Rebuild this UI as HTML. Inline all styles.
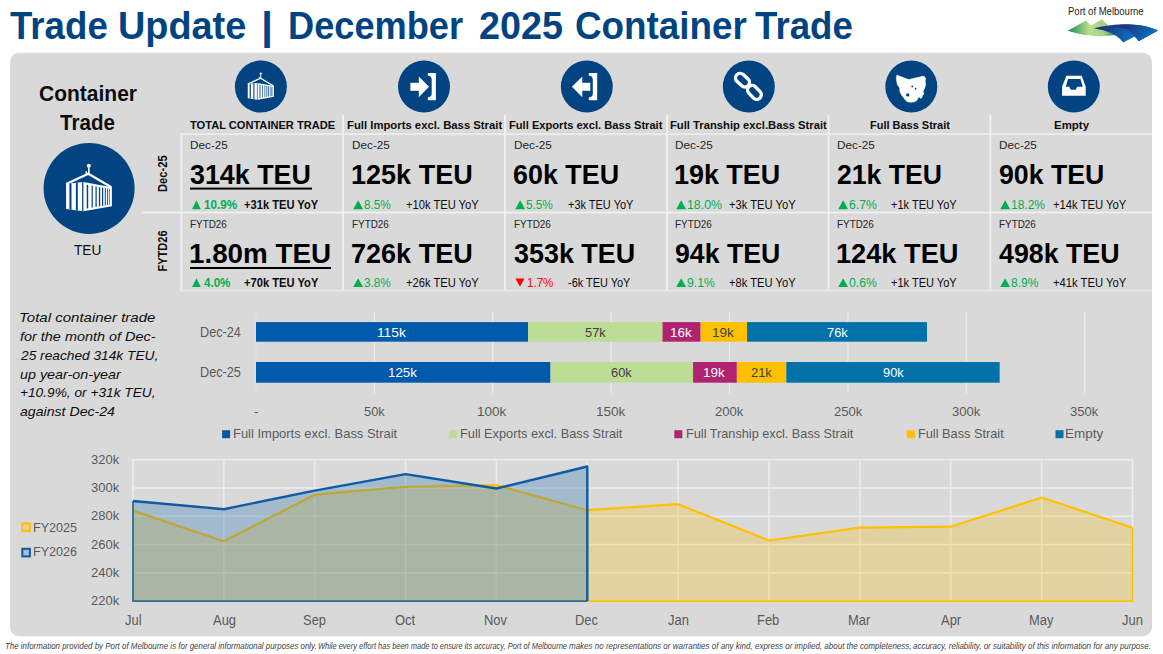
<!DOCTYPE html>
<html><head><meta charset="utf-8"><style>
html,body{margin:0;padding:0;background:#fff;}
body{width:1163px;height:654px;position:relative;overflow:hidden;font-family:"Liberation Sans",sans-serif;}
svg{position:absolute;left:0;top:0;}
.t{position:absolute;white-space:nowrap;transform-origin:0 0;}
</style></head><body>
<svg width="1163" height="654" viewBox="0 0 1163 654">
<rect x="10" y="52.8" width="1142" height="583.4" rx="9" ry="9" fill="#d9d9d9"/>
<rect x="180.5" y="133.3" width="1.8" height="157.5" fill="#f1f1f1"/>
<rect x="342.10" y="115" width="1.8" height="176" fill="#f1f1f1"/>
<rect x="504.10" y="115" width="1.8" height="176" fill="#f1f1f1"/>
<rect x="666.10" y="115" width="1.8" height="176" fill="#f1f1f1"/>
<rect x="827.60" y="115" width="1.8" height="176" fill="#f1f1f1"/>
<rect x="989.50" y="115" width="1.8" height="176" fill="#f1f1f1"/>
<rect x="180.5" y="133.3" width="971.5" height="1.8" fill="#ededed"/>
<rect x="142" y="211.7" width="1010" height="1.7" fill="#f1f1f1"/>
<rect x="180.5" y="289.7" width="971.5" height="1.7" fill="#e9e9e9"/>
<rect x="190" y="187.6" width="122" height="2" fill="#000"/>
<rect x="190" y="267" width="141" height="2" fill="#000"/>
<polygon points="192.00,209.20 196.40,200.30 200.80,209.20" fill="#00b050"/>
<polygon points="192.00,287.10 196.40,278.20 200.80,287.10" fill="#00b050"/>
<polygon points="353.20,209.20 358.15,200.30 363.10,209.20" fill="#00b050"/>
<polygon points="353.20,287.10 358.15,278.20 363.10,287.10" fill="#00b050"/>
<polygon points="515.20,209.20 520.15,200.30 525.10,209.20" fill="#00b050"/>
<polygon points="515.40,278.60 524.50,278.60 520.00,286.80" fill="#ff0000"/>
<polygon points="676.20,209.20 681.15,200.30 686.10,209.20" fill="#00b050"/>
<polygon points="676.20,287.10 681.15,278.20 686.10,287.10" fill="#00b050"/>
<polygon points="838.20,209.20 843.15,200.30 848.10,209.20" fill="#00b050"/>
<polygon points="838.20,287.10 843.15,278.20 848.10,287.10" fill="#00b050"/>
<polygon points="1000.20,209.20 1005.15,200.30 1010.10,209.20" fill="#00b050"/>
<polygon points="1000.20,287.10 1005.15,278.20 1010.10,287.10" fill="#00b050"/>
<circle cx="260.9" cy="86.6" r="26" fill="#024481"/>
<g transform="translate(260.9,86.6)"><g transform="scale(0.5714)"><polyline points="-23.00,-4.40 -0.70,-14.60 22.30,-1.10" fill="none" stroke="#fff" stroke-width="2.2"/><circle cx="-0.3" cy="-22.6" r="2" fill="#fff"/><path d="M-0.3,-21 L-0.3,-15.5 Q-0.5,-13.8 -2.5,-14.5 L-3,-17" fill="none" stroke="#fff" stroke-width="1.6"/><polygon points="-23.00,-4.70 -5.60,-6.40 -5.60,22.80 -23.00,20.60" fill="#fff"/><polygon points="-19.70,-5.02 -17.60,-5.23 -17.60,21.28 -19.70,21.02" fill="#024481"/><polygon points="-13.20,-5.66 -11.30,-5.84 -11.30,22.08 -13.20,21.84" fill="#024481"/><polygon points="-7.00,-6.26 -5.60,-6.40 -5.60,22.80 -7.00,22.62" fill="#024481"/><polygon points="-5.60,-6.40 22.80,-1.10 22.80,17.90 -5.60,22.80" fill="#fff"/><polygon points="-2.40,-3.63 -0.90,-3.36 -0.90,19.82 -2.40,20.07" fill="#024481"/><polygon points="2.50,-2.75 3.70,-2.53 3.70,19.06 2.50,19.26" fill="#024481"/><polygon points="6.40,-2.05 7.60,-1.83 7.60,18.42 6.40,18.61" fill="#024481"/><polygon points="9.80,-1.43 11.10,-1.20 11.10,17.84 9.80,18.05" fill="#024481"/><polygon points="12.90,-0.88 14.10,-0.66 14.10,17.34 12.90,17.54" fill="#024481"/><polygon points="15.70,-0.38 16.70,-0.20 16.70,16.91 15.70,17.07" fill="#024481"/><polygon points="18.10,0.06 19.00,0.22 19.00,16.53 18.10,16.68" fill="#024481"/><polygon points="20.20,0.43 20.80,0.54 20.80,16.23 20.20,16.33" fill="#024481"/></g></g>
<circle cx="424" cy="86.6" r="26" fill="#024481"/>
<g transform="translate(424,86.6)"><rect x="-13.6" y="-3.8" width="8.6" height="8" fill="#fff"/><polygon points="-5.2,-10.2 5,0.2 -5.2,10.6" fill="#fff"/><path d="M3.8,-13.7 L11.9,-13.7 L11.9,13.6 L3.8,13.6 L3.8,10.8 Q7.7,10.8 7.7,7 L7.7,-7 Q7.7,-10.8 3.8,-10.8 Z" fill="#fff"/></g>
<circle cx="586.8" cy="86.6" r="26" fill="#024481"/>
<g transform="translate(586.8,86.6)"><rect x="-4.7" y="-3.8" width="8.2" height="8" fill="#fff"/><polygon points="-4.5,-10.2 -14.9,0.2 -4.5,10.6" fill="#fff"/><path d="M2,-13.7 L10.4,-13.7 L10.4,13.6 L2,13.6 L2,10.8 Q6,10.8 6,7 L6,-7 Q6,-10.8 2,-10.8 Z" fill="#fff"/></g>
<circle cx="748.8" cy="86.6" r="26" fill="#024481"/>
<g transform="translate(748.8,86.6)"><g transform="translate(-6.3,-6.4) rotate(43)"><rect x="-7.9" y="-4.6" width="15.8" height="9.2" rx="4.6" fill="none" stroke="#fff" stroke-width="3.4"/></g><g transform="translate(5.6,5.8) rotate(47)"><rect x="-7.9" y="-4.6" width="15.8" height="9.2" rx="4.6" fill="none" stroke="#fff" stroke-width="3.4"/></g></g>
<circle cx="911.3" cy="86.6" r="26" fill="#024481"/>
<g transform="translate(911.3,86.6)"><polygon points="-14.34,-11.51 -10.95,-10.10 -6.99,-8.68 -3.59,-7.27 -1.90,-6.98 0.93,-7.83 4.32,-8.68 7.72,-9.25 11.11,-10.38 13.37,-9.81 14.22,-8.12 13.94,-5.29 14.22,-1.89 13.37,1.50 12.24,3.76 11.68,5.46 12.81,7.16 11.11,8.85 10.55,11.11 8.85,11.68 7.72,9.98 6.59,11.68 5.46,13.94 3.19,15.07 -0.20,15.64 -4.16,15.07 -5.86,13.38 -7.55,11.11 -9.82,8.29 -11.51,4.33 -11.51,1.50 -13.78,-1.89 -14.62,-5.29 -14.91,-9.25" fill="#fff" stroke="#fff" stroke-width="0.6" stroke-linejoin="round"/><circle cx="0.93" cy="-0.20" r="0.9" fill="#024481"/><circle cx="4.32" cy="2.07" r="0.9" fill="#024481"/><circle cx="-3.59" cy="8.29" r="1.7" fill="#024481"/></g>
<circle cx="1073.8" cy="86.6" r="26" fill="#024481"/>
<g transform="translate(1073.8,86.6)"><polygon points="-7.48,-10.73 7.93,-10.73 11.90,0.21 11.90,9.16 -11.76,9.16 -11.76,0.21" fill="#fff"/><polygon points="-5.79,-7.54 6.73,-7.54 8.92,0.21 3.45,0.21 1.96,3.19 -3.01,3.19 -4.50,0.21 -7.98,0.21" fill="#024481"/></g>
<circle cx="89.1" cy="188.4" r="45.5" fill="#024481"/>
<g transform="translate(89.1,188.4)"><g transform="scale(1.0000)"><polyline points="-23.00,-4.40 -0.70,-14.60 22.30,-1.10" fill="none" stroke="#fff" stroke-width="2.2"/><circle cx="-0.3" cy="-22.6" r="2" fill="#fff"/><path d="M-0.3,-21 L-0.3,-15.5 Q-0.5,-13.8 -2.5,-14.5 L-3,-17" fill="none" stroke="#fff" stroke-width="1.6"/><polygon points="-23.00,-4.70 -5.60,-6.40 -5.60,22.80 -23.00,20.60" fill="#fff"/><polygon points="-19.70,-5.02 -17.60,-5.23 -17.60,21.28 -19.70,21.02" fill="#024481"/><polygon points="-13.20,-5.66 -11.30,-5.84 -11.30,22.08 -13.20,21.84" fill="#024481"/><polygon points="-7.00,-6.26 -5.60,-6.40 -5.60,22.80 -7.00,22.62" fill="#024481"/><polygon points="-5.60,-6.40 22.80,-1.10 22.80,17.90 -5.60,22.80" fill="#fff"/><polygon points="-2.40,-3.63 -0.90,-3.36 -0.90,19.82 -2.40,20.07" fill="#024481"/><polygon points="2.50,-2.75 3.70,-2.53 3.70,19.06 2.50,19.26" fill="#024481"/><polygon points="6.40,-2.05 7.60,-1.83 7.60,18.42 6.40,18.61" fill="#024481"/><polygon points="9.80,-1.43 11.10,-1.20 11.10,17.84 9.80,18.05" fill="#024481"/><polygon points="12.90,-0.88 14.10,-0.66 14.10,17.34 12.90,17.54" fill="#024481"/><polygon points="15.70,-0.38 16.70,-0.20 16.70,16.91 15.70,17.07" fill="#024481"/><polygon points="18.10,0.06 19.00,0.22 19.00,16.53 18.10,16.68" fill="#024481"/><polygon points="20.20,0.43 20.80,0.54 20.80,16.23 20.20,16.33" fill="#024481"/></g></g>
<rect x="255.40" y="311.5" width="1.2" height="82" fill="#e0e0e0"/>
<rect x="373.78" y="311.5" width="1.2" height="82" fill="#ececec"/>
<rect x="492.16" y="311.5" width="1.2" height="82" fill="#ececec"/>
<rect x="610.54" y="311.5" width="1.2" height="82" fill="#ececec"/>
<rect x="728.92" y="311.5" width="1.2" height="82" fill="#ececec"/>
<rect x="847.30" y="311.5" width="1.2" height="82" fill="#ececec"/>
<rect x="965.68" y="311.5" width="1.2" height="82" fill="#ececec"/>
<rect x="1084.06" y="311.5" width="1.2" height="82" fill="#ececec"/>
<rect x="256.00" y="322.1" width="272.04" height="19.60" fill="#005aab"/>
<rect x="528.04" y="322.1" width="134.48" height="19.60" fill="#bddc96"/>
<rect x="662.52" y="322.1" width="38.12" height="19.60" fill="#b0236f"/>
<rect x="700.64" y="322.1" width="46.40" height="19.60" fill="#ffc000"/>
<rect x="747.04" y="322.1" width="179.94" height="19.60" fill="#0071a9"/>
<rect x="256.00" y="362.0" width="294.53" height="20.70" fill="#005aab"/>
<rect x="550.53" y="362.0" width="142.53" height="20.70" fill="#bddc96"/>
<rect x="693.06" y="362.0" width="43.80" height="20.70" fill="#b0236f"/>
<rect x="736.86" y="362.0" width="49.48" height="20.70" fill="#ffc000"/>
<rect x="786.34" y="362.0" width="213.32" height="20.70" fill="#0071a9"/>
<rect x="222.1" y="430.2" width="8" height="8" fill="#005aab"/>
<rect x="449.4" y="430.2" width="8" height="8" fill="#bddc96"/>
<rect x="674.3" y="430.2" width="8" height="8" fill="#b0236f"/>
<rect x="906.8" y="430.2" width="8" height="8" fill="#ffc000"/>
<rect x="1055.5" y="430.2" width="8" height="8" fill="#0071a9"/>
<rect x="132.20" y="600.30" width="1001.06" height="1.6" fill="#ebebeb"/>
<rect x="132.20" y="572.02" width="1001.06" height="1.6" fill="#ebebeb"/>
<rect x="132.20" y="543.74" width="1001.06" height="1.6" fill="#ebebeb"/>
<rect x="132.20" y="515.46" width="1001.06" height="1.6" fill="#ebebeb"/>
<rect x="132.20" y="487.18" width="1001.06" height="1.6" fill="#ebebeb"/>
<rect x="132.20" y="458.90" width="1001.06" height="1.6" fill="#ebebeb"/>
<rect x="132.20" y="458.90" width="1.6" height="143.00" fill="#ebebeb"/>
<rect x="223.06" y="458.90" width="1.6" height="143.00" fill="#ebebeb"/>
<rect x="313.92" y="458.90" width="1.6" height="143.00" fill="#ebebeb"/>
<rect x="404.78" y="458.90" width="1.6" height="143.00" fill="#ebebeb"/>
<rect x="495.64" y="458.90" width="1.6" height="143.00" fill="#ebebeb"/>
<rect x="586.50" y="458.90" width="1.6" height="143.00" fill="#ebebeb"/>
<rect x="677.36" y="458.90" width="1.6" height="143.00" fill="#ebebeb"/>
<rect x="768.22" y="458.90" width="1.6" height="143.00" fill="#ebebeb"/>
<rect x="859.08" y="458.90" width="1.6" height="143.00" fill="#ebebeb"/>
<rect x="949.94" y="458.90" width="1.6" height="143.00" fill="#ebebeb"/>
<rect x="1040.80" y="458.90" width="1.6" height="143.00" fill="#ebebeb"/>
<rect x="1131.66" y="458.90" width="1.6" height="143.00" fill="#ebebeb"/>
<polygon points="133.00,510.60 223.86,541.20 314.72,494.70 405.58,486.80 496.44,485.10 587.30,510.20 678.16,504.20 769.02,540.50 859.88,527.70 950.74,526.70 1041.60,497.50 1132.46,527.70 1132.46,601.10 133.00,601.10" fill="#ffc000" fill-opacity="0.25" stroke="none"/>
<polyline points="133.00,601.10 1132.46,601.10 1132.46,527.70" fill="none" stroke="#ffc000" stroke-width="1.6"/>
<polyline points="133.00,510.60 223.86,541.20 314.72,494.70 405.58,486.80 496.44,485.10 587.30,510.20 678.16,504.20 769.02,540.50 859.88,527.70 950.74,526.70 1041.60,497.50 1132.46,527.70" fill="none" stroke="#ffc000" stroke-width="2.2" stroke-linejoin="round"/>
<polygon points="133.00,501.00 223.86,509.20 314.72,490.60 405.58,474.10 496.44,488.50 587.30,466.50 587.30,601.10 133.00,601.10" fill="#1f6fae" fill-opacity="0.29" stroke="none"/>
<polyline points="587.30,601.10 133.00,601.10 133.00,501.00" fill="none" stroke="#2a6e96" stroke-width="1.8"/>
<polyline points="133.00,501.00 223.86,509.20 314.72,490.60 405.58,474.10 496.44,488.50 587.30,466.50 587.30,601.10" fill="none" stroke="#0f5aa6" stroke-width="2.4" stroke-linejoin="round"/>
<rect x="22.3" y="523.5" width="7.6" height="7.6" fill="#e3d3a3" stroke="#ffc000" stroke-width="2"/>
<rect x="22.3" y="548.8" width="7.6" height="7.6" fill="#a9bcd0" stroke="#0f5aa6" stroke-width="2"/>
<defs><linearGradient id="gm" gradientUnits="userSpaceOnUse" x1="1067" y1="0" x2="1116" y2="0"><stop offset="0" stop-color="#138a4c"/><stop offset="0.45" stop-color="#b8dc90"/><stop offset="0.75" stop-color="#a6d286"/><stop offset="1" stop-color="#128a50"/></linearGradient><linearGradient id="gb" gradientUnits="userSpaceOnUse" x1="1100" y1="25" x2="1125" y2="43"><stop offset="0" stop-color="#222c74"/><stop offset="1" stop-color="#0a6cbc"/></linearGradient><linearGradient id="gb2" gradientUnits="userSpaceOnUse" x1="1125" y1="24" x2="1145" y2="41"><stop offset="0" stop-color="#21317a"/><stop offset="1" stop-color="#0a6cbc"/></linearGradient></defs><path d="M1067.8,30.8 L1086.1,20.6 L1091,25.4 L1102.1,19.2 L1108.5,26.1 L1115.2,35.1 C1100,37.5 1082,36 1067.8,30.8 Z" fill="url(#gm)"/><path d="M1093.7,28.4 C1105,25.5 1120,24 1130,24.4 C1142,24.8 1152,27.5 1158.1,30.4 L1138.7,41.2 C1137.5,39.3 1136,37.5 1134.6,36.5 L1123.2,42.5 C1120,38.5 1117,36 1112,33.5 C1106,30.8 1100,29.2 1093.7,28.4 Z" fill="url(#gb)"/><path d="M1111,26.2 C1125,27 1131,31 1134.6,36.5 L1138.7,41.2 L1158.1,30.4 C1150,26.5 1140,24.5 1130,24.4 C1122,24.4 1115,25.2 1111,26.2 Z" fill="url(#gb2)"/>
</svg>
<span class="t" style="left:10.00px;top:7.00px;font-size:38.84px;line-height:38.84px;color:#024481;font-weight:bold;transform:scaleX(0.9437);">Trade</span>
<span class="t" style="left:118.15px;top:7.00px;font-size:38.84px;line-height:38.84px;color:#024481;font-weight:bold;transform:scaleX(0.9744);">Update</span>
<span class="t" style="left:260.97px;top:7.00px;font-size:38.84px;line-height:38.84px;color:#024481;font-weight:bold;transform:scaleX(1.1167);">|</span>
<span class="t" style="left:288.34px;top:7.00px;font-size:38.84px;line-height:38.84px;color:#024481;font-weight:bold;transform:scaleX(0.9323);">December</span>
<span class="t" style="left:478.93px;top:7.00px;font-size:38.84px;line-height:38.84px;color:#024481;font-weight:bold;transform:scaleX(0.9719);">2025</span>
<span class="t" style="left:575.05px;top:7.00px;font-size:38.84px;line-height:38.84px;color:#024481;font-weight:bold;transform:scaleX(0.9484);">Container</span>
<span class="t" style="left:755.30px;top:7.00px;font-size:38.84px;line-height:38.84px;color:#024481;font-weight:bold;transform:scaleX(0.9447);">Trade</span>
<span class="t" style="left:1067.50px;top:7.00px;font-size:10.29px;line-height:10.29px;color:#222;transform:scaleX(0.9256);">Port of Melbourne</span>
<span class="t" style="left:39.10px;top:83.00px;font-size:21.16px;line-height:21.16px;color:#0d0d0d;font-weight:bold;transform:scaleX(0.9925);">Container</span>
<span class="t" style="left:60.20px;top:113.00px;font-size:21.30px;line-height:21.30px;color:#0d0d0d;font-weight:bold;transform:scaleX(0.9671);">Trade</span>
<span class="t" style="left:74.20px;top:243.00px;font-size:14.64px;line-height:14.64px;color:#0d0d0d;transform:scaleX(0.9342);">TEU</span>
<span class="t" style="left:189.60px;top:119.00px;font-size:11.74px;line-height:11.74px;color:#0d0d0d;font-weight:bold;transform:scaleX(0.9446);">TOTAL CONTAINER TRADE</span>
<span class="t" style="left:346.50px;top:119.00px;font-size:11.74px;line-height:11.74px;color:#0d0d0d;font-weight:bold;transform:scaleX(0.9636);">Full Imports excl. Bass Strait</span>
<span class="t" style="left:509.30px;top:119.00px;font-size:11.74px;line-height:11.74px;color:#0d0d0d;font-weight:bold;transform:scaleX(0.9486);">Full Exports excl. Bass Strait</span>
<span class="t" style="left:669.60px;top:119.00px;font-size:11.74px;line-height:11.74px;color:#0d0d0d;font-weight:bold;transform:scaleX(0.9580);">Full Tranship excl.Bass Strait</span>
<span class="t" style="left:869.60px;top:119.00px;font-size:11.74px;line-height:11.74px;color:#0d0d0d;font-weight:bold;transform:scaleX(0.9355);">Full Bass Strait</span>
<span class="t" style="left:1053.70px;top:119.00px;font-size:11.74px;line-height:11.74px;color:#0d0d0d;font-weight:bold;transform:scaleX(0.9780);">Empty</span>
<span class="t" style="left:190.00px;top:140.00px;font-size:11.59px;line-height:11.59px;color:#262626;transform:scaleX(1.0140);">Dec-25</span>
<span class="t" style="left:190.00px;top:161.00px;font-size:27.54px;line-height:27.54px;color:#000;font-weight:bold;transform:scaleX(0.9755);">314k TEU</span>
<span class="t" style="left:203.80px;top:199.00px;font-size:12.75px;line-height:12.75px;color:#00b050;font-weight:bold;transform:scaleX(0.9130);">10.9%</span>
<span class="t" style="left:244.00px;top:199.00px;font-size:12.75px;line-height:12.75px;color:#0d0d0d;font-weight:bold;transform:scaleX(0.8733);">+31k TEU YoY</span>
<span class="t" style="left:190.00px;top:219.00px;font-size:11.59px;line-height:11.59px;color:#262626;transform:scaleX(0.8554);">FYTD26</span>
<span class="t" style="left:188.99px;top:240.00px;font-size:27.54px;line-height:27.54px;color:#000;font-weight:bold;transform:scaleX(1.0085);">1.80m TEU</span>
<span class="t" style="left:203.80px;top:277.00px;font-size:12.75px;line-height:12.75px;color:#00b050;font-weight:bold;transform:scaleX(0.9086);">4.0%</span>
<span class="t" style="left:244.00px;top:277.00px;font-size:12.75px;line-height:12.75px;color:#0d0d0d;font-weight:bold;transform:scaleX(0.8757);">+70k TEU YoY</span>
<span class="t" style="left:352.00px;top:140.00px;font-size:11.59px;line-height:11.59px;color:#262626;transform:scaleX(1.0140);">Dec-25</span>
<span class="t" style="left:351.02px;top:161.00px;font-size:27.54px;line-height:27.54px;color:#000;font-weight:bold;transform:scaleX(0.9818);">125k TEU</span>
<span class="t" style="left:364.30px;top:199.00px;font-size:12.75px;line-height:12.75px;color:#00b050;transform:scaleX(0.9226);">8.5%</span>
<span class="t" style="left:406.00px;top:199.00px;font-size:12.75px;line-height:12.75px;color:#0d0d0d;transform:scaleX(0.8749);">+10k TEU YoY</span>
<span class="t" style="left:352.00px;top:219.00px;font-size:11.59px;line-height:11.59px;color:#262626;transform:scaleX(0.8554);">FYTD26</span>
<span class="t" style="left:351.02px;top:240.00px;font-size:27.54px;line-height:27.54px;color:#000;font-weight:bold;transform:scaleX(0.9818);">726k TEU</span>
<span class="t" style="left:364.30px;top:277.00px;font-size:12.75px;line-height:12.75px;color:#00b050;transform:scaleX(0.9226);">3.8%</span>
<span class="t" style="left:406.00px;top:277.00px;font-size:12.75px;line-height:12.75px;color:#0d0d0d;transform:scaleX(0.8749);">+26k TEU YoY</span>
<span class="t" style="left:514.00px;top:140.00px;font-size:11.59px;line-height:11.59px;color:#262626;transform:scaleX(1.0140);">Dec-25</span>
<span class="t" style="left:513.02px;top:161.00px;font-size:27.54px;line-height:27.54px;color:#000;font-weight:bold;transform:scaleX(0.9764);">60k TEU</span>
<span class="t" style="left:526.30px;top:199.00px;font-size:12.75px;line-height:12.75px;color:#00b050;transform:scaleX(0.9226);">5.5%</span>
<span class="t" style="left:568.00px;top:199.00px;font-size:12.75px;line-height:12.75px;color:#0d0d0d;transform:scaleX(0.8606);">+3k TEU YoY</span>
<span class="t" style="left:514.00px;top:219.00px;font-size:11.59px;line-height:11.59px;color:#262626;transform:scaleX(0.8554);">FYTD26</span>
<span class="t" style="left:514.00px;top:240.00px;font-size:27.54px;line-height:27.54px;color:#000;font-weight:bold;transform:scaleX(0.9771);">353k TEU</span>
<span class="t" style="left:526.80px;top:277.00px;font-size:12.75px;line-height:12.75px;color:#ff0000;transform:scaleX(0.9052);">1.7%</span>
<span class="t" style="left:568.00px;top:277.00px;font-size:12.75px;line-height:12.75px;color:#0d0d0d;transform:scaleX(0.8573);">-6k TEU YoY</span>
<span class="t" style="left:675.00px;top:140.00px;font-size:11.59px;line-height:11.59px;color:#262626;transform:scaleX(1.0140);">Dec-25</span>
<span class="t" style="left:674.02px;top:161.00px;font-size:27.54px;line-height:27.54px;color:#000;font-weight:bold;transform:scaleX(0.9774);">19k TEU</span>
<span class="t" style="left:687.30px;top:199.00px;font-size:12.75px;line-height:12.75px;color:#00b050;transform:scaleX(0.9689);">18.0%</span>
<span class="t" style="left:729.00px;top:199.00px;font-size:12.75px;line-height:12.75px;color:#0d0d0d;transform:scaleX(0.8775);">+3k TEU YoY</span>
<span class="t" style="left:675.00px;top:219.00px;font-size:11.59px;line-height:11.59px;color:#262626;transform:scaleX(0.8554);">FYTD26</span>
<span class="t" style="left:675.00px;top:240.00px;font-size:27.54px;line-height:27.54px;color:#000;font-weight:bold;transform:scaleX(0.9683);">94k TEU</span>
<span class="t" style="left:687.30px;top:277.00px;font-size:12.75px;line-height:12.75px;color:#00b050;transform:scaleX(0.9539);">9.1%</span>
<span class="t" style="left:729.00px;top:277.00px;font-size:12.75px;line-height:12.75px;color:#0d0d0d;transform:scaleX(0.8775);">+8k TEU YoY</span>
<span class="t" style="left:837.00px;top:140.00px;font-size:11.59px;line-height:11.59px;color:#262626;transform:scaleX(1.0140);">Dec-25</span>
<span class="t" style="left:837.00px;top:161.00px;font-size:27.54px;line-height:27.54px;color:#000;font-weight:bold;transform:scaleX(0.9655);">21k TEU</span>
<span class="t" style="left:849.30px;top:199.00px;font-size:12.75px;line-height:12.75px;color:#00b050;transform:scaleX(0.9574);">6.7%</span>
<span class="t" style="left:891.00px;top:199.00px;font-size:12.75px;line-height:12.75px;color:#0d0d0d;transform:scaleX(0.8645);">+1k TEU YoY</span>
<span class="t" style="left:837.00px;top:219.00px;font-size:11.59px;line-height:11.59px;color:#262626;transform:scaleX(0.8554);">FYTD26</span>
<span class="t" style="left:836.01px;top:240.00px;font-size:27.54px;line-height:27.54px;color:#000;font-weight:bold;transform:scaleX(0.9876);">124k TEU</span>
<span class="t" style="left:849.30px;top:277.00px;font-size:12.75px;line-height:12.75px;color:#00b050;transform:scaleX(0.9574);">0.6%</span>
<span class="t" style="left:891.00px;top:277.00px;font-size:12.75px;line-height:12.75px;color:#0d0d0d;transform:scaleX(0.8645);">+1k TEU YoY</span>
<span class="t" style="left:999.00px;top:140.00px;font-size:11.59px;line-height:11.59px;color:#262626;transform:scaleX(1.0140);">Dec-25</span>
<span class="t" style="left:999.00px;top:161.00px;font-size:27.54px;line-height:27.54px;color:#000;font-weight:bold;transform:scaleX(0.9683);">90k TEU</span>
<span class="t" style="left:1011.30px;top:199.00px;font-size:12.75px;line-height:12.75px;color:#00b050;transform:scaleX(0.9381);">18.2%</span>
<span class="t" style="left:1053.00px;top:199.00px;font-size:12.75px;line-height:12.75px;color:#0d0d0d;transform:scaleX(0.8808);">+14k TEU YoY</span>
<span class="t" style="left:999.00px;top:219.00px;font-size:11.59px;line-height:11.59px;color:#262626;transform:scaleX(0.8554);">FYTD26</span>
<span class="t" style="left:999.00px;top:240.00px;font-size:27.54px;line-height:27.54px;color:#000;font-weight:bold;transform:scaleX(0.9722);">498k TEU</span>
<span class="t" style="left:1011.30px;top:277.00px;font-size:12.75px;line-height:12.75px;color:#00b050;transform:scaleX(0.9435);">8.9%</span>
<span class="t" style="left:1053.00px;top:277.00px;font-size:12.75px;line-height:12.75px;color:#0d0d0d;transform:scaleX(0.8808);">+41k TEU YoY</span>
<span class="t" style="left:0px;top:0px;font-size:13.62px;line-height:13.62px;color:#0d0d0d;font-weight:bold;transform:translate(155.82px,192.00px) rotate(-90deg) scaleX(0.8232);">Dec-25</span>
<span class="t" style="left:0px;top:0px;font-size:13.62px;line-height:13.62px;color:#0d0d0d;font-weight:bold;transform:translate(155.82px,271.50px) rotate(-90deg) scaleX(0.8121);">FYTD26</span>
<span class="t" style="left:18.77px;top:311.00px;font-size:13.33px;line-height:13.33px;color:#0d0d0d;font-style:italic;transform:scaleX(1.1270);">Total container trade</span>
<span class="t" style="left:19.90px;top:330.00px;font-size:13.33px;line-height:13.33px;color:#0d0d0d;font-style:italic;transform:scaleX(1.0823);">for the month of Dec-</span>
<span class="t" style="left:20.93px;top:349.00px;font-size:13.33px;line-height:13.33px;color:#0d0d0d;font-style:italic;transform:scaleX(1.0295);">25 reached 314k TEU,</span>
<span class="t" style="left:19.90px;top:368.00px;font-size:13.33px;line-height:13.33px;color:#0d0d0d;font-style:italic;transform:scaleX(1.0741);">up year-on-year</span>
<span class="t" style="left:19.90px;top:386.00px;font-size:13.33px;line-height:13.33px;color:#0d0d0d;font-style:italic;transform:scaleX(1.0277);">+10.9%, or +31k TEU,</span>
<span class="t" style="left:19.90px;top:405.00px;font-size:13.33px;line-height:13.33px;color:#0d0d0d;font-style:italic;transform:scaleX(1.0590);">against Dec-24</span>
<span class="t" style="left:200.19px;top:326.00px;font-size:13.91px;line-height:13.91px;color:#595959;transform:scaleX(0.9117);">Dec-24</span>
<span class="t" style="left:200.19px;top:366.00px;font-size:13.91px;line-height:13.91px;color:#595959;transform:scaleX(0.9117);">Dec-25</span>
<span class="t" style="left:376.94px;top:326.00px;font-size:13.33px;line-height:13.33px;color:#fff;transform:scaleX(1.0313);">115k</span>
<span class="t" style="left:584.78px;top:326.00px;font-size:13.33px;line-height:13.33px;color:#404040;transform:scaleX(0.9622);">57k</span>
<span class="t" style="left:670.07px;top:326.00px;font-size:13.33px;line-height:13.33px;color:#fff;transform:scaleX(1.0084);">16k</span>
<span class="t" style="left:712.33px;top:326.00px;font-size:13.33px;line-height:13.33px;color:#404040;transform:scaleX(1.0084);">19k</span>
<span class="t" style="left:826.51px;top:326.00px;font-size:13.33px;line-height:13.33px;color:#fff;transform:scaleX(0.9622);">76k</span>
<span class="t" style="left:388.22px;top:366.00px;font-size:13.33px;line-height:13.33px;color:#fff;transform:scaleX(0.9951);">125k</span>
<span class="t" style="left:611.29px;top:366.00px;font-size:13.33px;line-height:13.33px;color:#404040;transform:scaleX(0.9622);">60k</span>
<span class="t" style="left:703.45px;top:366.00px;font-size:13.33px;line-height:13.33px;color:#fff;transform:scaleX(1.0084);">19k</span>
<span class="t" style="left:751.10px;top:366.00px;font-size:13.33px;line-height:13.33px;color:#404040;transform:scaleX(0.9622);">21k</span>
<span class="t" style="left:882.50px;top:366.00px;font-size:13.33px;line-height:13.33px;color:#fff;transform:scaleX(0.9622);">90k</span>
<span class="t" style="left:254.00px;top:405.00px;font-size:13.33px;line-height:13.33px;color:#595959;">-</span>
<span class="t" style="left:363.83px;top:405.00px;font-size:13.33px;line-height:13.33px;color:#595959;transform:scaleX(0.9668);">50k</span>
<span class="t" style="left:477.39px;top:405.00px;font-size:13.33px;line-height:13.33px;color:#595959;transform:scaleX(1.0164);">100k</span>
<span class="t" style="left:595.77px;top:405.00px;font-size:13.33px;line-height:13.33px;color:#595959;transform:scaleX(1.0164);">150k</span>
<span class="t" style="left:715.17px;top:405.00px;font-size:13.33px;line-height:13.33px;color:#595959;transform:scaleX(0.9816);">200k</span>
<span class="t" style="left:833.55px;top:405.00px;font-size:13.33px;line-height:13.33px;color:#595959;transform:scaleX(0.9816);">250k</span>
<span class="t" style="left:951.93px;top:405.00px;font-size:13.33px;line-height:13.33px;color:#595959;transform:scaleX(0.9816);">300k</span>
<span class="t" style="left:1070.31px;top:405.00px;font-size:13.33px;line-height:13.33px;color:#595959;transform:scaleX(0.9816);">350k</span>
<span class="t" style="left:233.03px;top:427.00px;font-size:13.33px;line-height:13.33px;color:#595959;transform:scaleX(0.9723);">Full Imports excl. Bass Strait</span>
<span class="t" style="left:460.04px;top:427.00px;font-size:13.33px;line-height:13.33px;color:#595959;transform:scaleX(0.9573);">Full Exports excl. Bass Strait</span>
<span class="t" style="left:685.85px;top:427.00px;font-size:13.33px;line-height:13.33px;color:#595959;transform:scaleX(0.9527);">Full Tranship excl. Bass Strait</span>
<span class="t" style="left:917.94px;top:427.00px;font-size:13.33px;line-height:13.33px;color:#595959;transform:scaleX(0.9559);">Full Bass Strait</span>
<span class="t" style="left:1064.99px;top:427.00px;font-size:13.33px;line-height:13.33px;color:#595959;transform:scaleX(1.0106);">Empty</span>
<span class="t" style="left:90.50px;top:594.00px;font-size:13.62px;line-height:13.62px;color:#595959;transform:scaleX(0.9526);">220k</span>
<span class="t" style="left:90.50px;top:566.00px;font-size:13.62px;line-height:13.62px;color:#595959;transform:scaleX(0.9526);">240k</span>
<span class="t" style="left:90.50px;top:538.00px;font-size:13.62px;line-height:13.62px;color:#595959;transform:scaleX(0.9526);">260k</span>
<span class="t" style="left:90.50px;top:509.00px;font-size:13.62px;line-height:13.62px;color:#595959;transform:scaleX(0.9526);">280k</span>
<span class="t" style="left:90.50px;top:481.00px;font-size:13.62px;line-height:13.62px;color:#595959;transform:scaleX(0.9526);">300k</span>
<span class="t" style="left:90.50px;top:453.00px;font-size:13.62px;line-height:13.62px;color:#595959;transform:scaleX(0.9526);">320k</span>
<span class="t" style="left:124.78px;top:614.00px;font-size:13.91px;line-height:13.91px;color:#595959;transform:scaleX(0.9300);">Jul</span>
<span class="t" style="left:212.70px;top:614.00px;font-size:13.91px;line-height:13.91px;color:#595959;transform:scaleX(0.9300);">Aug</span>
<span class="t" style="left:303.09px;top:614.00px;font-size:13.91px;line-height:13.91px;color:#595959;transform:scaleX(0.9300);">Sep</span>
<span class="t" style="left:395.46px;top:614.00px;font-size:13.91px;line-height:13.91px;color:#595959;transform:scaleX(0.9300);">Oct</span>
<span class="t" style="left:484.45px;top:614.00px;font-size:13.91px;line-height:13.91px;color:#595959;transform:scaleX(0.9300);">Nov</span>
<span class="t" style="left:575.31px;top:614.00px;font-size:13.91px;line-height:13.91px;color:#595959;transform:scaleX(0.9300);">Dec</span>
<span class="t" style="left:668.08px;top:614.00px;font-size:13.91px;line-height:13.91px;color:#595959;transform:scaleX(0.9300);">Jan</span>
<span class="t" style="left:757.29px;top:614.00px;font-size:13.91px;line-height:13.91px;color:#595959;transform:scaleX(0.9300);">Feb</span>
<span class="t" style="left:848.11px;top:614.00px;font-size:13.91px;line-height:13.91px;color:#595959;transform:scaleX(0.9300);">Mar</span>
<span class="t" style="left:940.51px;top:614.00px;font-size:13.91px;line-height:13.91px;color:#595959;transform:scaleX(0.9300);">Apr</span>
<span class="t" style="left:1028.90px;top:614.00px;font-size:13.91px;line-height:13.91px;color:#595959;transform:scaleX(0.9300);">May</span>
<span class="t" style="left:1122.38px;top:614.00px;font-size:13.91px;line-height:13.91px;color:#595959;transform:scaleX(0.9300);">Jun</span>
<span class="t" style="left:33.46px;top:521.00px;font-size:13.33px;line-height:13.33px;color:#595959;transform:scaleX(0.9433);">FY2025</span>
<span class="t" style="left:33.46px;top:545.00px;font-size:13.33px;line-height:13.33px;color:#595959;transform:scaleX(0.9433);">FY2026</span>
<span class="t" style="left:4.60px;top:642.00px;font-size:8.99px;line-height:8.99px;color:#404040;font-style:italic;transform:scaleX(0.8807);">The information provided by Port of Melbourne is for general informational purposes only.</span>
<span class="t" style="left:317.80px;top:642.00px;font-size:8.99px;line-height:8.99px;color:#404040;font-style:italic;transform:scaleX(0.8299);">While every effort has been made to ensure its accuracy, Port of Melbourne</span>
<span class="t" style="left:568.70px;top:642.00px;font-size:8.99px;line-height:8.99px;color:#404040;font-style:italic;transform:scaleX(0.8908);">makes no representations or warranties of any kind, express or implied, about the completeness,</span>
<span class="t" style="left:912.50px;top:642.00px;font-size:8.99px;line-height:8.99px;color:#404040;font-style:italic;transform:scaleX(0.8885);">accuracy, reliability, or suitability of this information for any purpose.</span>
</body></html>
